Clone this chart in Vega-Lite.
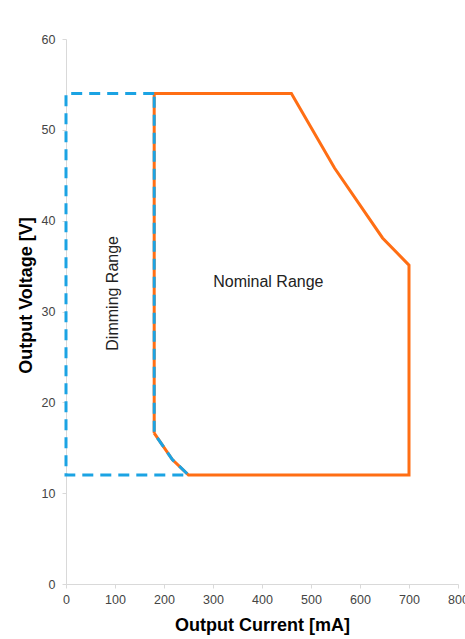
{
  "$schema": "https://vega.github.io/schema/vega-lite/v6.json",
  "width": 392,
  "height": 545,
  "autosize": {"type": "none"},
  "padding": {"left": 66, "top": 39, "right": 7, "bottom": 55},
  "background": "white",
  "config": {
    "view": {"stroke": null},
    "font": "Liberation Sans"
  },
  "datasets": {
    "nominal": [
      {"order": 1, "current": 180, "voltage": 16.6},
      {"order": 2, "current": 180, "voltage": 54},
      {"order": 3, "current": 460, "voltage": 54},
      {"order": 4, "current": 548, "voltage": 45.8},
      {"order": 5, "current": 646, "voltage": 38.1},
      {"order": 6, "current": 700, "voltage": 35.1},
      {"order": 7, "current": 700, "voltage": 12},
      {"order": 8, "current": 250, "voltage": 12},
      {"order": 9, "current": 217, "voltage": 13.7},
      {"order": 10, "current": 180, "voltage": 16.6}
    ],
    "dimming": [
      {"order": 1, "current": 180, "voltage": 54},
      {"order": 2, "current": 0, "voltage": 54},
      {"order": 3, "current": 0, "voltage": 12},
      {"order": 4, "current": 250, "voltage": 12},
      {"order": 5, "current": 217, "voltage": 13.7},
      {"order": 6, "current": 180, "voltage": 16.6},
      {"order": 7, "current": 180, "voltage": 54}
    ],
    "labels": [
      {"label": "Nominal Range", "current": 413, "voltage": 33.2}
    ],
    "vlabels": [
      {"label": "Dimming Range", "current": 95, "voltage": 32.0}
    ]
  },
  "layer": [
    {
      "data": {"name": "nominal"},
      "mark": {"type": "line", "color": "#FF6E14", "strokeWidth": 3, "strokeJoin": "miter"},
      "encoding": {
        "x": {
          "field": "current", "type": "quantitative",
          "scale": {"domain": [0, 800], "nice": false},
          "axis": {
            "title": "Output Current [mA]",
            "values": [0, 100, 200, 300, 400, 500, 600, 700, 800],
            "grid": false,
            "domainColor": "#d9d9d9",
            "tickColor": "#d9d9d9",
            "tickSize": 4,
            "labelPadding": 5,
            "labelFontSize": 12.5,
            "labelColor": "#444444",
            "labelFont": "Liberation Sans",
            "labelFlush": false,
            "labelOverlap": false,
            "titleFont": "Liberation Sans",
            "titleFontSize": 18,
            "titleFontWeight": "bold",
            "titleColor": "#000000",
            "titlePadding": 11
          }
        },
        "y": {
          "field": "voltage", "type": "quantitative",
          "scale": {"domain": [0, 60], "nice": false},
          "axis": {
            "title": "Output Voltage [V]",
            "values": [0, 10, 20, 30, 40, 50, 60],
            "grid": false,
            "domainColor": "#d9d9d9",
            "tickColor": "#d9d9d9",
            "tickSize": 4,
            "labelPadding": 7,
            "labelFontSize": 12.5,
            "labelColor": "#444444",
            "labelFont": "Liberation Sans",
            "labelOverlap": false,
            "titleFont": "Liberation Sans",
            "titleFontSize": 18,
            "titleFontWeight": "bold",
            "titleColor": "#000000",
            "titleX": -40,
            "titleY": 256,
            "titleBaseline": "middle",
            "titleAngle": -90
          }
        },
        "order": {"field": "order", "type": "quantitative"}
      }
    },
    {
      "data": {"name": "dimming"},
      "mark": {"type": "line", "color": "#1BA3E3", "strokeWidth": 3, "strokeDash": [11, 7], "strokeJoin": "miter"},
      "encoding": {
        "x": {"field": "current", "type": "quantitative"},
        "y": {"field": "voltage", "type": "quantitative"},
        "order": {"field": "order", "type": "quantitative"}
      }
    },
    {
      "data": {"name": "labels"},
      "mark": {"type": "text", "font": "Liberation Sans", "fontSize": 16, "color": "#222222", "baseline": "middle", "align": "center"},
      "encoding": {
        "x": {"field": "current", "type": "quantitative"},
        "y": {"field": "voltage", "type": "quantitative"},
        "text": {"field": "label"}
      }
    },
    {
      "data": {"name": "vlabels"},
      "mark": {"type": "text", "font": "Liberation Sans", "fontSize": 16, "color": "#222222", "baseline": "middle", "align": "center", "angle": 270},
      "encoding": {
        "x": {"field": "current", "type": "quantitative"},
        "y": {"field": "voltage", "type": "quantitative"},
        "text": {"field": "label"}
      }
    }
  ]
}
